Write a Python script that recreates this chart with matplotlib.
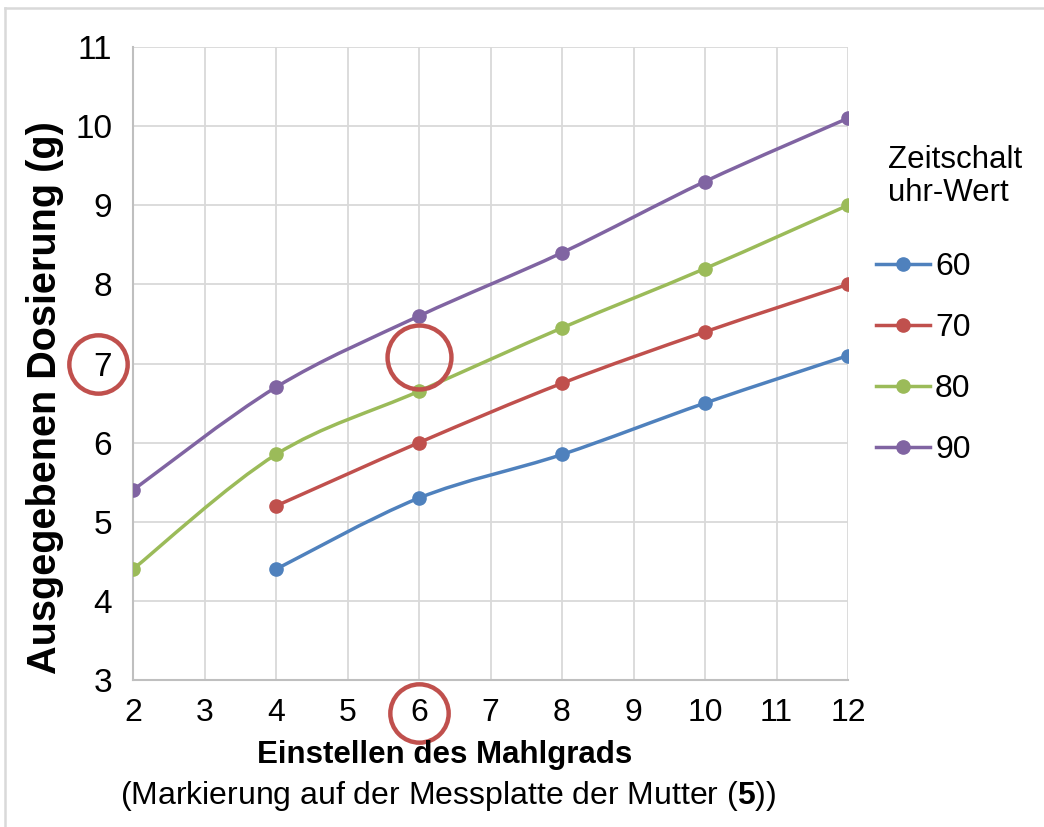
import matplotlib
matplotlib.use("Agg")
import matplotlib.pyplot as plt
import numpy as np
from matplotlib.lines import Line2D
from matplotlib.path import Path
from matplotlib.patches import PathPatch

plt.rcParams['font.family'] = ['Liberation Sans', 'DejaVu Sans']
plt.rcParams['mathtext.fontset'] = 'custom'
plt.rcParams['mathtext.rm'] = 'Liberation Sans'
plt.rcParams['mathtext.bf'] = 'Liberation Sans:bold'

# data
x_60 = [4, 6, 8, 10, 12]
y_60 = [4.4, 5.3, 5.85, 6.5, 7.1]
x_70 = [4, 6, 8, 10, 12]
y_70 = [5.2, 6.0, 6.75, 7.4, 8.0]
x_80 = [2, 4, 6, 8, 10, 12]
y_80 = [4.4, 5.85, 6.65, 7.45, 8.2, 9.0]
x_90 = [2, 4, 6, 8, 10, 12]
y_90 = [5.4, 6.7, 7.6, 8.4, 9.3, 10.1]

series_names = ["60", "70", "80", "90"]
series_x = [x_60, x_70, x_80, x_90]
series_y = [y_60, y_70, y_80, y_90]
colors = ["#4F81BD", "#C0504D", "#9BBB59", "#8064A2"]

x_ticks = list(range(2, 13))
y_ticks = list(range(3, 12))


def smooth_path(xs, ys):
    # Excel-like smoothed line: cubic bezier through the points
    pts = np.column_stack([xs, ys]).astype(float)
    n = len(pts)
    verts = [pts[0]]
    codes = [Path.MOVETO]
    for i in range(n - 1):
        p0 = pts[i - 1] if i > 0 else pts[i]
        p1 = pts[i]
        p2 = pts[i + 1]
        p3 = pts[i + 2] if i + 2 < n else pts[i + 1]
        c1 = p1 + (p2 - p0) / 6.0
        c2 = p2 - (p3 - p1) / 6.0
        verts += [c1, c2, p2]
        codes += [Path.CURVE4] * 3
    return Path(verts, codes)


fig = plt.figure(figsize=(10.44, 8.27), dpi=100)
ax = fig.add_axes([133 / 1044, 1 - 680 / 827, 715 / 1044, 633 / 827])

for name, xs, ys, c in zip(series_names, series_x, series_y, colors):
    ax.add_patch(PathPatch(smooth_path(xs, ys), facecolor="none", edgecolor=c,
                           lw=2.5, capstyle="round", zorder=3))
    ax.plot(xs, ys, linestyle="none", marker="o", ms=9.5, color=c, zorder=4)

ax.set_xlim(2, 12)
ax.set_ylim(3, 11)
ax.set_xticks(x_ticks)
ax.set_yticks(y_ticks)
ax.grid(True, color="#d9d9d9", lw=1.3)
ax.set_axisbelow(True)
ax.tick_params(axis="x", length=0, labelsize=23, pad=13)
ax.tick_params(axis="y", length=0, labelsize=24, pad=15)
for s in ["top", "right"]:
    ax.spines[s].set_visible(False)
for s in ["left", "bottom"]:
    ax.spines[s].set_color("#bfbfbf")
    ax.spines[s].set_linewidth(1.5)

fig.text(45 / 1044, 1 - 398 / 827, "Ausgegebenen Dosierung (g)", fontsize=28.5,
         fontweight="bold", rotation=90, ha="center", va="center")
fig.text(445 / 1044, 1 - 755 / 827, "Einstellen des Mahlgrads", fontsize=22.5,
         fontweight="bold", ha="center", va="center")
fig.text(448 / 1044, 1 - 796 / 827, r"(Markierung auf der Messplatte der Mutter ($\mathbf{5}$))",
         fontsize=23, ha="center", va="center")

# red highlight circles
ring = dict(linestyle="none", marker="o", mfc="none", mec="#C0504D", mew=3.2, clip_on=False, zorder=5)
ax.plot([1.51], [7.0], ms=42, **ring)
ax.plot([6.0], [7.08], ms=46, **ring)
ax.plot([6.0], [2.58], ms=42, **ring)

# legend
fig.text(888 / 1044, 1 - 145 / 827, "Zeitschalt\nuhr-Wert", fontsize=22.5,
         ha="left", va="top", linespacing=1.12)
handles = [Line2D([], [], color=c, lw=2.5, marker="o", ms=9.5) for c in colors]
fig.legend(handles, series_names, loc="upper left", bbox_to_anchor=(876 / 1044, 1 - 252 / 827),
           frameon=False, fontsize=23, handlelength=1.7, handletextpad=0.15,
           labelspacing=0.97, borderpad=0, borderaxespad=0)

# outer chart border (top and left visible)
fig.add_artist(Line2D([5 / 1044, 5 / 1044], [0, 1 - 8 / 827], transform=fig.transFigure,
                      color="#d9d9d9", lw=1.8))
fig.add_artist(Line2D([5 / 1044, 1], [1 - 8 / 827, 1 - 8 / 827], transform=fig.transFigure,
                      color="#d9d9d9", lw=1.8))

fig.savefig("out.png", dpi=100)
